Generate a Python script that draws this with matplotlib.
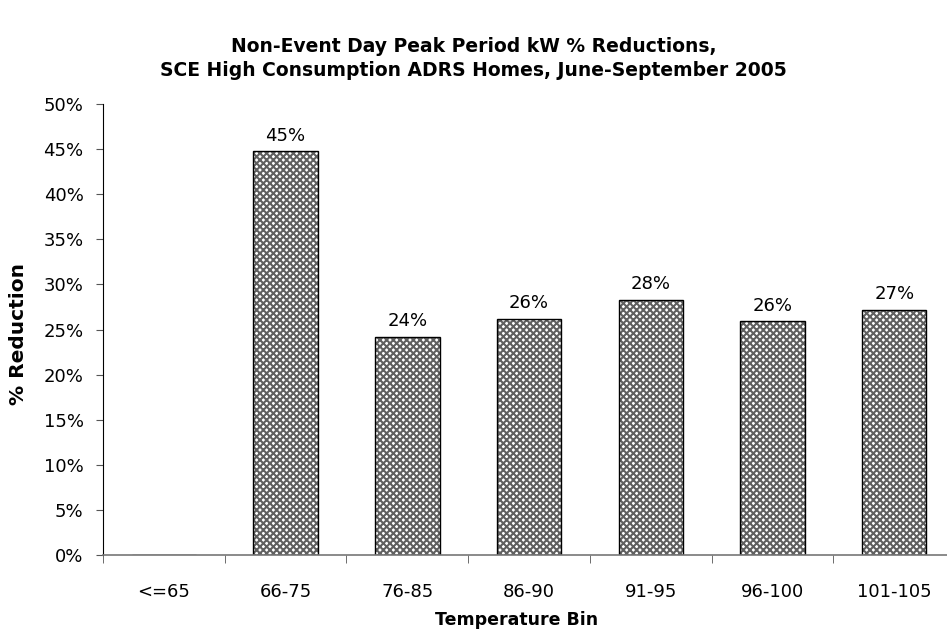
import numpy as np
import matplotlib
matplotlib.use("Agg")
import matplotlib.pyplot as plt

bins = ["<=65", "66-75", "76-85", "86-90", "91-95", "96-100", "101-105"]
reductions = [np.nan, 44.8, 24.2, 26.2, 28.3, 25.9, 27.2]
bar_labels = ["", "45%", "24%", "26%", "28%", "26%", "27%"]
yticks = [0, 5, 10, 15, 20, 25, 30, 35, 40, 45, 50]

plt.rcParams['font.family'] = ['DejaVu Sans']
plt.rcParams['font.size'] = 13
plt.rcParams['hatch.linewidth'] = 1.5

fig = plt.figure(figsize=(9.47, 6.32), dpi=100)
ax = fig.add_axes([0.1088, 0.1218, 0.8997, 0.7136])

x = np.arange(len(bins))
vals = np.nan_to_num(reductions)
# hatch layer then outline layer
ax.bar(x, vals, width=0.53, color='white', edgecolor='#606060', hatch='xxxxx', linewidth=0)
ax.bar(x, vals, width=0.53, fill=False, edgecolor='black', linewidth=1.0)

for xi, v, lab in zip(x, vals, bar_labels):
    if lab:
        ax.text(xi, v + 0.7, lab, ha='center', va='bottom', fontsize=13)

ax.set_xlim(-0.5, 6.5)
ax.set_ylim(0, 50)
ax.set_yticks(yticks)
ax.set_yticklabels([f"{t}%" for t in yticks])
ax.set_xticks(x)
ax.set_xticklabels(bins)
ax.set_xticks(np.arange(-0.5, 6.6, 1), minor=True)
ax.tick_params(axis='x', which='major', length=0, pad=20)
ax.tick_params(axis='x', which='minor', length=6, direction='out', color='#555555')
ax.tick_params(axis='y', length=5, direction='out', pad=9, color='#555555')

for s in ['top', 'right']:
    ax.spines[s].set_visible(False)
ax.spines['left'].set_color('black')
ax.spines['bottom'].set_color('#777777')
ax.spines['bottom'].set_linewidth(1.2)

ax.set_xlabel("Temperature Bin", fontweight='bold', fontsize=12.5, va='center')
ax.xaxis.set_label_coords(0.485, -0.144)
ax.set_ylabel("% Reduction", fontweight='bold', fontsize=14.5, va='center')
ax.yaxis.set_label_coords(-0.099, 0.49)

fig.text(0.5, 1 - 47 / 632, "Non-Event Day Peak Period kW % Reductions,",
         ha='center', va='center', fontweight='bold', fontsize=13.5)
fig.text(0.5, 1 - 71 / 632, "SCE High Consumption ADRS Homes, June-September 2005",
         ha='center', va='center', fontweight='bold', fontsize=13.5)

fig.savefig("out.png", dpi=100)
